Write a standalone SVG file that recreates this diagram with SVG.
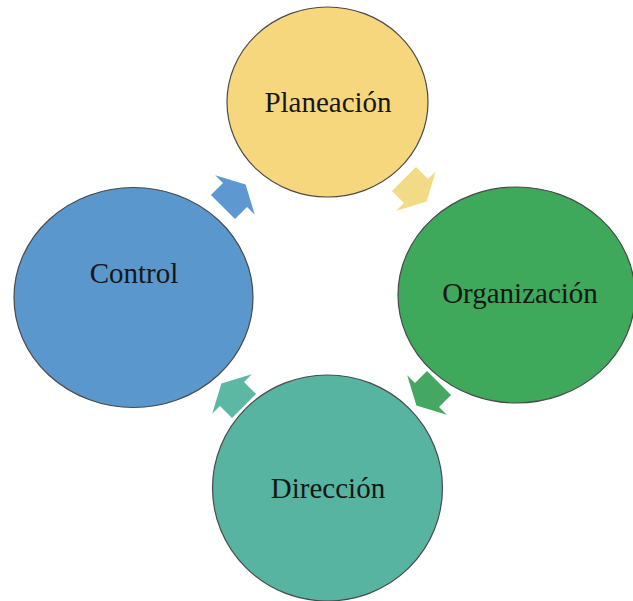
<svg xmlns="http://www.w3.org/2000/svg" xmlns:xlink="http://www.w3.org/1999/xlink" width="633" height="601" viewBox="0 0 633 601">
  <style>
    .node { stroke: #4a4a4a; stroke-width: 1.2; }
    .label { font-family: "Liberation Serif", "Times New Roman", serif; font-size: 29px; fill: #161616; text-anchor: middle; }
  </style>
  <defs>
    <!-- block arrow pointing along +x, base of the head at x=0 -->
    <path id="blockArrow" d="M -17,-17 L 0,-17 L 0,-28 L 15,0 L 0,28 L 0,17 L -17,17 Z"/>
  </defs>
  <rect width="633" height="601" fill="#ffffff"/>

  <g id="connectors">
    <use xlink:href="#blockArrow" fill="#5d99d0" transform="translate(235,195) rotate(-45)"/>
    <use xlink:href="#blockArrow" fill="#f3da86" transform="translate(416,191) rotate(45)"/>
    <use xlink:href="#blockArrow" fill="#45a862" transform="translate(427,395) rotate(135)"/>
    <use xlink:href="#blockArrow" fill="#5cb8a2" transform="translate(232,394) rotate(-135)"/>
  </g>

  <g id="planeacion">
    <ellipse class="node" cx="327.5" cy="102" rx="100.5" ry="95" fill="#f6d77d"/>
    <text class="label" x="328" y="112">Planeación</text>
  </g>

  <g id="organizacion">
    <ellipse class="node" cx="516.5" cy="295" rx="118.5" ry="108" fill="#3ea85b"/>
    <text class="label" x="520" y="303">Organización</text>
  </g>

  <g id="direccion">
    <ellipse class="node" cx="327.5" cy="488" rx="115" ry="113" fill="#56b4a0"/>
    <text class="label" x="328" y="498">Dirección</text>
  </g>

  <g id="control">
    <ellipse class="node" cx="133.5" cy="297.5" rx="119.5" ry="110" fill="#5a97cd"/>
    <text class="label" x="134" y="283">Control</text>
  </g>
</svg>
